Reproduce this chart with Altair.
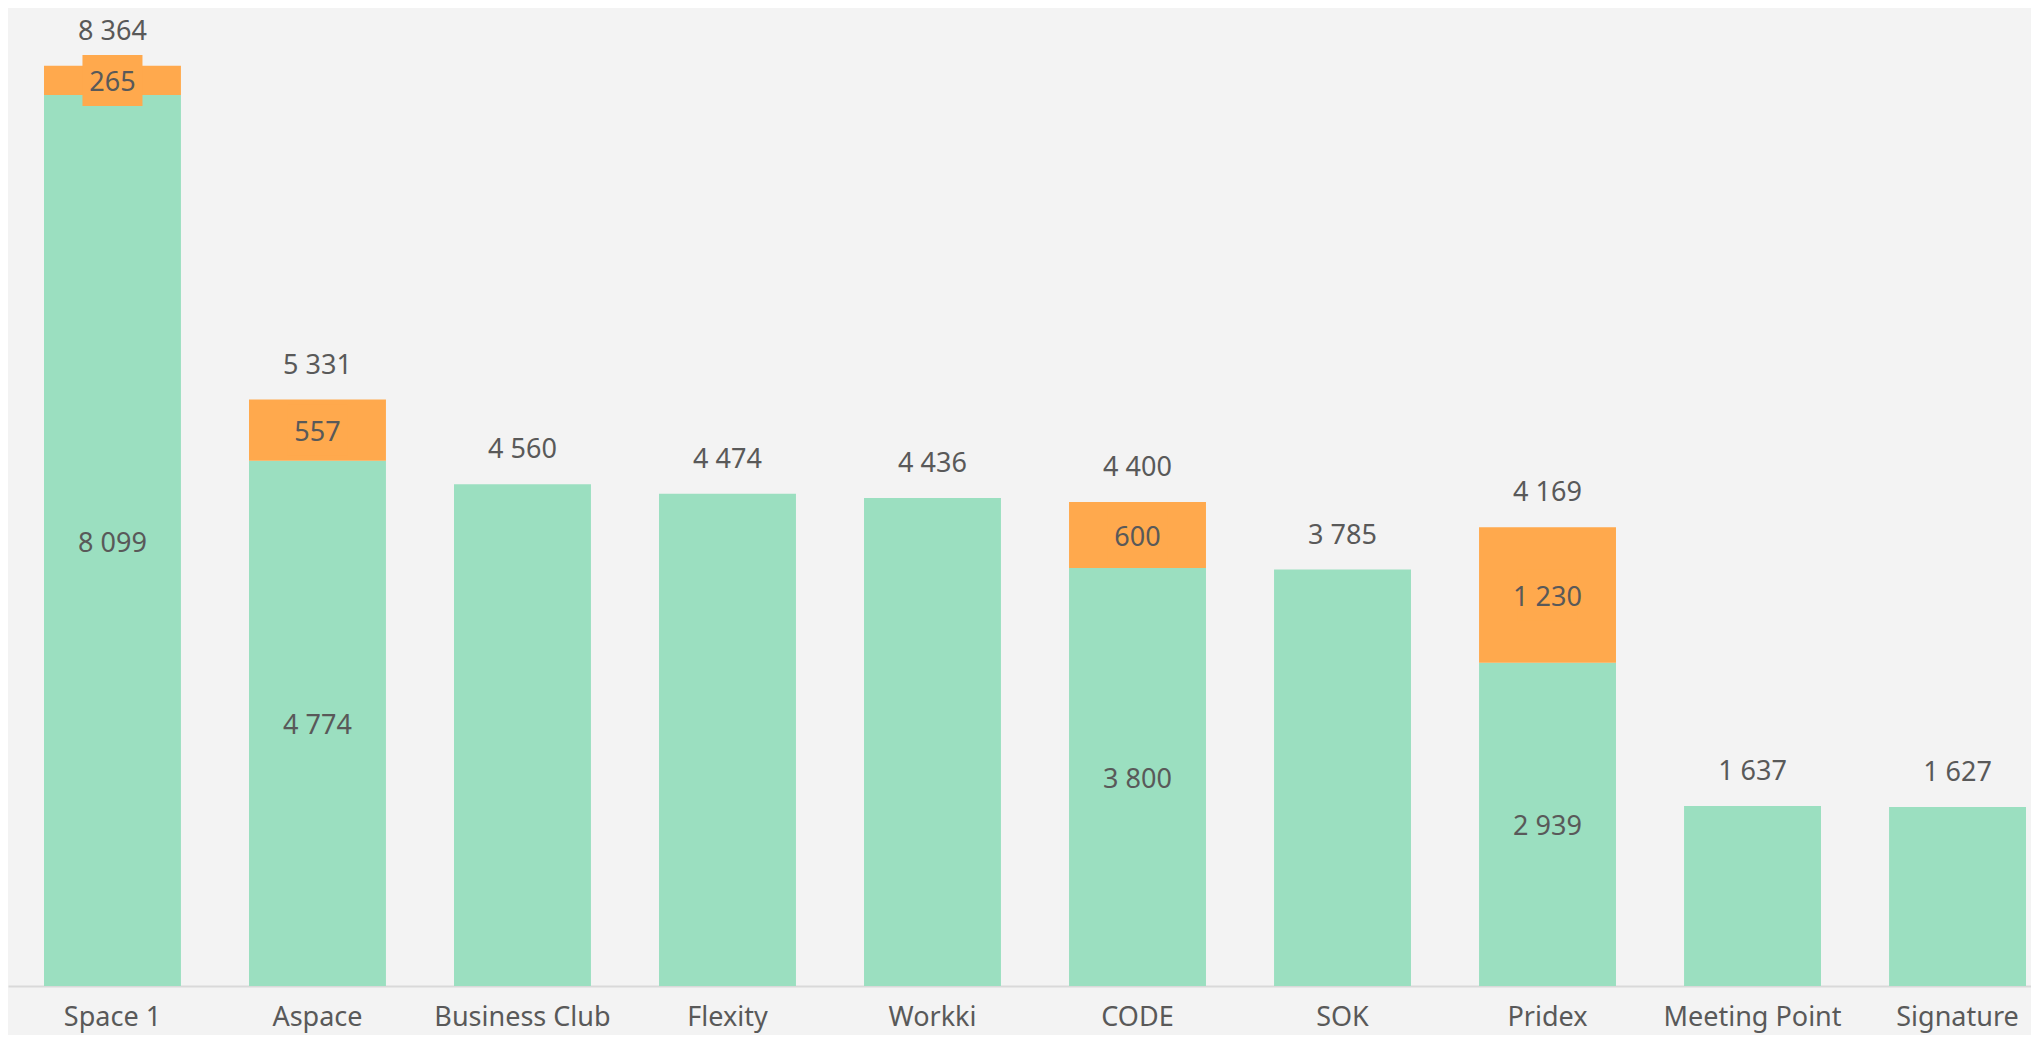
import altair as alt
import pandas as pd

categories = ["Space 1", "Aspace", "Business Club", "Flexity", "Workki",
              "CODE", "SOK", "Pridex", "Meeting Point", "Signature"]
green_values = [8099, 4774, 4560, 4474, 4436, 3800, 3785, 2939, 1637, 1627]
orange_values = [265, 557, 0, 0, 0, 600, 0, 1230, 0, 0]

GREEN = "#9BDFC0"
ORANGE = "#FFA94D"
TEXT = "#595959"
BG = "#F3F3F3"
FONT = "Noto Sans"
FS = 27


def fmt(v):
    return f"{v:,}".replace(",", " ")


rows = []
for c, g, o in zip(categories, green_values, orange_values):
    rows.append({"cat": c, "series": "green", "start": 0, "end": g,
                 "mid": g / 2, "label": fmt(g) if o > 0 else ""})
    if o > 0:
        rows.append({"cat": c, "series": "orange", "start": g, "end": g + o,
                     "mid": g + o / 2, "label": fmt(o)})
seg = pd.DataFrame(rows)
tot = pd.DataFrame({"cat": categories,
                    "total": [g + o for g, o in zip(green_values, orange_values)]})
tot["label"] = tot["total"].map(fmt)
orange_df = seg[seg["series"] == "orange"]

xenc = alt.X("cat:N", sort=categories, title=None,
             scale=alt.Scale(paddingInner=0.332, paddingOuter=0.1, align=0.878),
             axis=alt.Axis(labelFontSize=FS, labelColor=TEXT, labelFont=FONT,
                           ticks=False, tickSize=0, labelPadding=18, labelAngle=0,
                           domainColor="#D9D9D9", domainWidth=2, grid=False,
                           labelLimit=400))
yscale = alt.Scale(domain=[0, 8890], nice=False, zero=True)

bars = alt.Chart(seg).mark_bar().encode(
    x=xenc,
    y=alt.Y("start:Q", scale=yscale, axis=None),
    y2="end:Q",
    color=alt.Color("series:N", scale=alt.Scale(domain=["green", "orange"],
                                                range=[GREEN, ORANGE]), legend=None),
)

label_bg = alt.Chart(orange_df).mark_point(
    shape="M-1,-0.85H1V0.85H-1Z", filled=True, opacity=1, color=ORANGE,
    size=3600, strokeWidth=0
).encode(
    x=alt.X("cat:N", sort=categories),
    y=alt.Y("mid:Q", scale=yscale),
)

seg_text = alt.Chart(seg).mark_text(
    font=FONT, fontSize=FS, color=TEXT, baseline="middle", align="center", dy=3
).encode(
    x=alt.X("cat:N", sort=categories),
    y=alt.Y("mid:Q", scale=yscale),
    text="label:N",
)

tot_text = alt.Chart(tot).mark_text(
    font=FONT, fontSize=FS, color=TEXT, baseline="alphabetic", align="center", dy=-26
).encode(
    x=alt.X("cat:N", sort=categories),
    y=alt.Y("total:Q", scale=yscale),
    text="label:N",
)

chart = alt.layer(bars, label_bg, seg_text, tot_text).properties(
    width=2023, height=978,
    background=BG,
    autosize=alt.AutoSizeParams(type="none"),
    padding={"left": 0, "top": 0, "right": 0, "bottom": 49},
).configure_view(stroke=None)

chart.save("out.html", embed_options={"renderer": "svg", "actions": False})
